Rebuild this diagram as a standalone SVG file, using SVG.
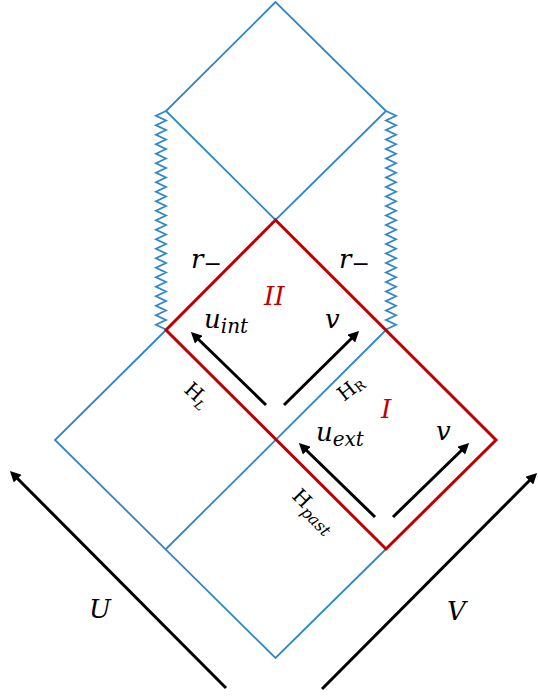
<svg xmlns="http://www.w3.org/2000/svg" width="538" height="698" viewBox="0 0 538 698">
<style>
.b{fill:none;stroke:#2F87C8;stroke-width:1.8;stroke-linejoin:miter}
.r{fill:none;stroke:#C00000;stroke-width:3;stroke-linejoin:miter}
.a{fill:none;stroke:#000;stroke-width:3;marker-end:url(#ah)}
.m{font-family:"DejaVu Serif","Liberation Serif",serif;font-style:italic;font-size:26px;fill:#000}
.h{font-family:"DejaVu Serif","Liberation Serif",serif;font-size:20px;fill:#000}
.red{fill:#C00000}
</style>
<defs>
<marker id="ah" viewBox="0 0 10 10" refX="6" refY="5" markerWidth="12" markerHeight="11" markerUnits="userSpaceOnUse" orient="auto">
<path d="M0,0 L10,5 L0,10 z" fill="#000"/>
</marker>
</defs>
<rect width="538" height="698" fill="#fff"/>
<g id="blue-grid">
<path class="b" d="M275.5,2 L166,111 L275.5,220 L386,111 Z"/>
<path class="b" d="M166,330 L55,440 L275.5,658 L386,549"/>
<path class="b" d="M386,330 L166,549"/>
</g>
<g id="singularities">
<path class="b" d="M166,111 l-10,4.75 10,4.75 -10,4.75 10,4.75 -10,4.75 10,4.75 -10,4.75 10,4.75 -10,4.75 10,4.75 -10,4.75 10,4.75 -10,4.75 10,4.75 -10,4.75 10,4.75 -10,4.75 10,4.75 -10,4.75 10,4.75 -10,4.75 10,4.75 -10,4.75 10,4.75 -10,4.75 10,4.75 -10,4.75 10,4.75 -10,4.75 10,4.75 -10,4.75 10,4.75 -10,4.75 10,4.75 -10,4.75 10,4.75 -10,4.75 10,4.75 -10,4.75 10,4.75 -10,4.75 10,4.75 -10,4.75 10,4.75 -10,4.75 10,4.75"/>
<path class="b" d="M386,111 l10,4.75 -10,4.75 10,4.75 -10,4.75 10,4.75 -10,4.75 10,4.75 -10,4.75 10,4.75 -10,4.75 10,4.75 -10,4.75 10,4.75 -10,4.75 10,4.75 -10,4.75 10,4.75 -10,4.75 10,4.75 -10,4.75 10,4.75 -10,4.75 10,4.75 -10,4.75 10,4.75 -10,4.75 10,4.75 -10,4.75 10,4.75 -10,4.75 10,4.75 -10,4.75 10,4.75 -10,4.75 10,4.75 -10,4.75 10,4.75 -10,4.75 10,4.75 -10,4.75 10,4.75 -10,4.75 10,4.75 -10,4.75 10,4.75 -10,4.75"/>
</g>
<g id="regions-I-II">
<path class="r" d="M275.5,220 L496,440 L386,549 L166,330 Z"/>
</g>
<g id="connectors">
<line class="a" x1="226" y1="688" x2="13" y2="474"/>
<line class="a" x1="322" y1="689" x2="534" y2="476"/>
<line class="a" x1="266" y1="405" x2="194" y2="335"/>
<line class="a" x1="284" y1="405" x2="356" y2="334"/>
<line class="a" x1="375" y1="517" x2="302" y2="446"/>
<line class="a" x1="393" y1="517" x2="466" y2="446"/>
</g>
<g id="labels">
<text class="m" x="191" y="268">r<tspan font-size="22" dy="3">−</tspan></text>
<text class="m" x="339" y="268">r<tspan font-size="22" dy="3">−</tspan></text>
<text class="m red" x="264" y="305">II</text>
<text class="m" x="204" y="328">u<tspan font-size="20" dy="5">int</tspan></text>
<text class="m" x="325" y="328">v</text>
<text class="h" transform="translate(183,391) rotate(42)">H<tspan font-size="13" font-style="italic" dy="4">L</tspan></text>
<text class="h" transform="translate(344,402) rotate(-38)">H<tspan font-size="13" dy="2">R</tspan></text>
<text class="m red" x="381" y="418">I</text>
<text class="m" x="316" y="441">u<tspan font-size="20" dy="5">ext</tspan></text>
<text class="m" x="436" y="440">v</text>
<text class="h" transform="translate(291,497) rotate(45)">H<tspan font-size="16" font-style="italic" dy="5">past</tspan></text>
<text class="m" x="89" y="618">U</text>
<text class="m" x="447" y="620">V</text>
</g>
</svg>
